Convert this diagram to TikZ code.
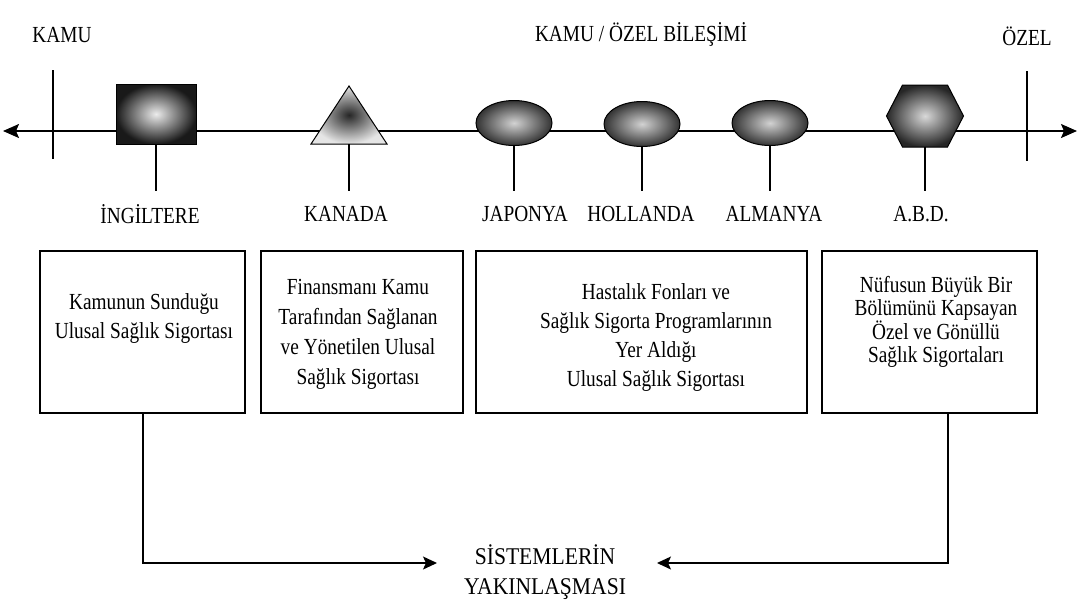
\documentclass[tikz,border=0pt]{standalone}
\usepackage{fontspec}
\setmainfont[FakeStretch=0.84]{Liberation Serif}
\newfontfamily\bigfont[FakeStretch=0.9]{Liberation Serif}
\usetikzlibrary{arrows.meta,shapes.geometric}
\begin{document}
\begin{tikzpicture}[x=1pt,y=-1pt,
  every node/.style={font=\fontsize{23}{29}\selectfont, inner sep=0pt},
  axisline/.style={line width=1.7pt},
  tickline/.style={line width=1.3pt},
  stemline/.style={line width=1.5pt},
  boxnode/.style={draw, line width=1.2pt, minimum height=162pt},
  connline/.style={line width=1.3pt, -{Stealth[length=14pt,width=13pt,inset=3pt]}},
  shapeborder/.style={draw, line width=1pt},
  sqshape/.style={shapeborder, rectangle, minimum width=80pt, minimum height=60pt,
    inner color=gray!15, outer color=black!90},
  ellshape/.style={shapeborder, ellipse, minimum width=76pt, minimum height=45pt,
    inner color=gray!35, outer color=black!80},
]
\useasboundingbox (0,0) rectangle (1087,606);

% titles
\node (kamu) at (62,35) {KAMU};
\node (mix) at (641,34) {KAMU / ÖZEL BİLEŞİMİ};
\node (ozel) at (1027,36) {ÖZEL};

% axis
\coordinate (axL) at (3,131);
\coordinate (axR) at (1077,131);
\draw[axisline, {Stealth[length=16pt,width=14pt,inset=3pt]}-{Stealth[length=16pt,width=14pt,inset=3pt]}] (axL) -- (axR);

% end ticks
\coordinate (kamuT) at (53,70);
\coordinate (kamuB) at (53,159);
\coordinate (ozelT) at (1027,71);
\coordinate (ozelB) at (1027,161);
\draw[tickline] (kamuT) -- (kamuB);
\draw[tickline] (ozelT) -- (ozelB);

% shapes on the axis
\node[sqshape] (ing) at (156,114) {};
\coordinate (kanTop) at (349,86);
\coordinate (kan) at (349,144);
\shadedraw[line width=1pt, inner color=black!85, outer color=gray!20]
  (kanTop) -- (311,144) -- (387,144) -- cycle;
\node[ellshape] (jap) at (514,123) {};
\node[ellshape] (hol) at (642,124) {};
\node[ellshape] (alm) at (770,123) {};
\coordinate (abd) at (925,147);
\shadedraw[line width=1pt, inner color=gray!30, outer color=black!85]
  (886.5,116) -- (902.5,85) -- (947.5,85) -- (963.5,116) -- (947.5,147) -- (902.5,147) -- cycle;

% stems
\coordinate (stemEnd) at (0,191);
\draw[stemline] (ing.south) -- (ing.south |- stemEnd);
\draw[stemline] (kan) -- (kan |- stemEnd);
\draw[stemline] (jap.south) -- (jap.south |- stemEnd);
\draw[stemline] (hol.south) -- (hol.south |- stemEnd);
\draw[stemline] (alm.south) -- (alm.south |- stemEnd);
\draw[stemline] (abd) -- (abd |- stemEnd);

% country labels
\node (lIng) at (150,214) {İNGİLTERE};
\node (lKan) at (346,214) {KANADA};
\node (lJap) at (525,214) {JAPONYA};
\node (lHol) at (641,214) {HOLLANDA};
\node (lAlm) at (774,214) {ALMANYA};
\node (lAbd) at (921,214) {A.B.D.};

% boxes
\node[boxnode, minimum width=205pt] (box1) at (142.5,332) {};
\node[boxnode, minimum width=202pt] (box2) at (362,332) {};
\node[boxnode, minimum width=331pt] (box3) at (641.5,332) {};
\node[boxnode, minimum width=215pt] (box4) at (929.5,332) {};

\node[align=center] (t1) at (144,318) {Kamunun Sunduğu\\Ulusal Sağlık Sigortası};
\node[align=center, font=\fontsize{23}{30}\selectfont] (t2) at (358,334)
  {Finansmanı Kamu\\Tarafından Sağlanan\\ve Yönetilen Ulusal\\Sağlık Sigortası};
\node[align=center] (t3) at (656,337)
  {Hastalık Fonları ve\\Sağlık Sigorta Programlarının\\Yer Aldığı\\Ulusal Sağlık Sigortası};
\node[align=center, font=\fontsize{23}{23}\selectfont] (t4) at (936,322)
  {Nüfusun Büyük Bir\\Bölümünü Kapsayan\\Özel ve Gönüllü\\Sağlık Sigortaları};

% convergence
\node[align=center, font=\bigfont\fontsize{24}{30}\selectfont] (sys) at (545,572)
  {SİSTEMLERİN\\YAKINLAŞMASI};
\coordinate (cornerL) at (143,563);
\coordinate (tipL) at (437,563);
\coordinate (cornerR) at (948,563);
\coordinate (tipR) at (657,563);
\draw[connline] (cornerL |- box1.south) -- (cornerL) -- (tipL);
\draw[connline] (cornerR |- box4.south) -- (cornerR) -- (tipR);
\end{tikzpicture}
\end{document}
